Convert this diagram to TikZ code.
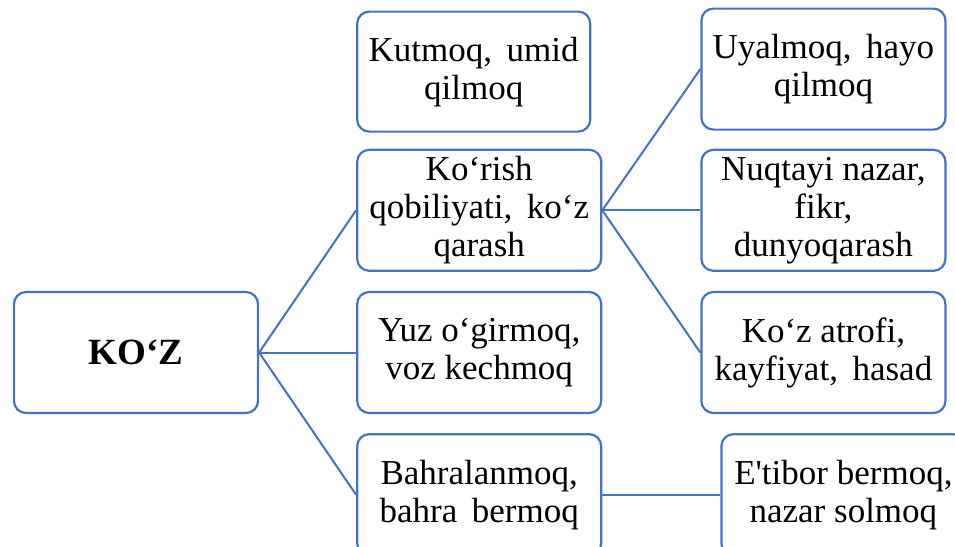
\documentclass[tikz,border=0pt]{standalone}
\usepackage{fontspec}
\setmainfont{Liberation Serif}
\usepackage{tikz}
\usetikzlibrary{positioning}
\definecolor{boxblue}{RGB}{68,114,196}
\tikzstyle{box}=[rectangle, rounded corners=12pt, draw=boxblue, line width=2.2pt, minimum width=244pt, minimum height=121pt, align=center, inner sep=2pt, font=\fontsize{35}{38}\selectfont]
\tikzstyle{link}=[draw=boxblue, line width=2pt]

\begin{document}
\begin{tikzpicture}[node distance=19pt and 97pt]
    \useasboundingbox (0pt,0pt) rectangle (955pt,-546pt);
    \node[box, font=\fontsize{37}{40}\selectfont\bfseries] (n0) at (136pt,-352.5pt) {KO‘Z};
    \node[box] (n3) [right=of n0] {Yuz o‘girmoq,\\voz kechmoq};
    \node[box] (n2) [above=of n3] {Ko‘rish\\qobiliyati,\ \,ko‘z\\qarash};
    \node[box, minimum width=233pt, minimum height=120pt] (n1) [above=16pt of n2.north west, anchor=south west] {Kutmoq,\ \,umid\\qilmoq};
    \node[box] (n4) [below=of n3] {Bahralanmoq,\\bahra\ \,bermoq};
    \node[box] (n6) [right=98pt of n2] {Nuqtayi nazar,\\fikr,\\dunyoqarash};
    \node[box] (n5) [above=18pt of n6] {Uyalmoq,\ \,hayo\\qilmoq};
    \node[box] (n7) [right=98pt of n3] {Ko‘z atrofi,\\kayfiyat,\ \,hasad};
    \node[box] (n8) [right=118pt of n4] {E\textquotesingle tibor bermoq,\\nazar solmoq};

    \path[link]
      (n0.east) edge (n2.west)
      (n0.east) edge (n3.west)
      (n0.east) edge (n4.west)
      (n2.east) edge (n5.west)
      (n2.east) edge (n6.west)
      (n2.east) edge (n7.west)
      (n4.east) edge (n8.west);
\end{tikzpicture}
\end{document}
